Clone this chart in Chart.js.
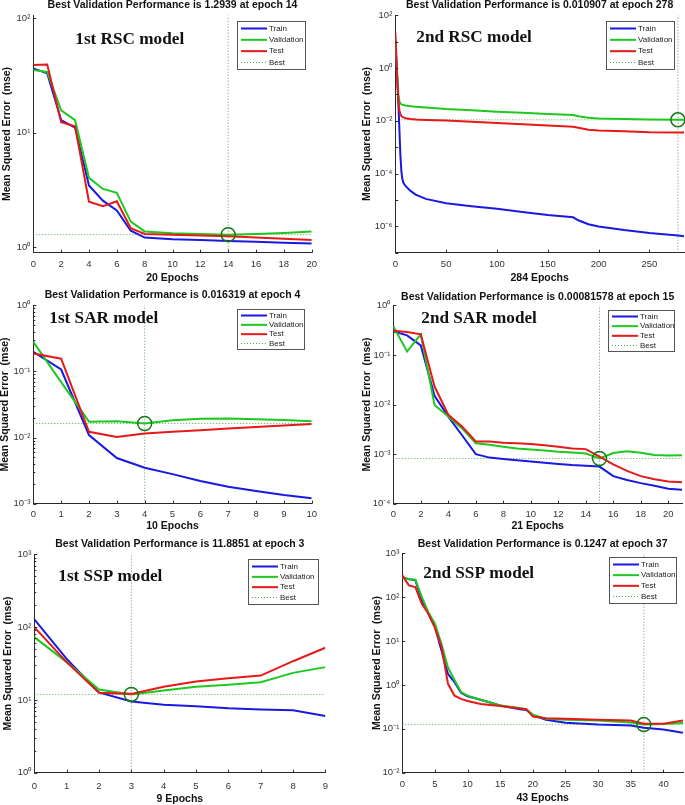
<!DOCTYPE html>
<html>
<head>
<meta charset="utf-8">
<script src="https://cdn.jsdelivr.net/npm/chart.js@4.4.0/dist/chart.umd.min.js"></script>
<style>
  html, body { margin: 0; padding: 0; background: #fff; }
  body { width: 685px; height: 805px; position: relative; overflow: hidden; }
  canvas { position: absolute; }
</style>
</head>
<body>
<canvas id="p1"></canvas>
<canvas id="p2"></canvas>
<canvas id="p3"></canvas>
<canvas id="p4"></canvas>
<canvas id="p5"></canvas>
<canvas id="p6"></canvas>
<script>
// ---- data ----
const rsc1Epochs = [0, 1, 2, 3, 4, 5, 6, 7, 8, 10, 12, 14, 16, 18, 20];
const rsc1Train = [36.5, 33, 12.9, 11.1, 3.47, 2.56, 2.1, 1.40, 1.22, 1.18, 1.16, 1.14, 1.12, 1.10, 1.08];
const rsc1Val = [35.3, 34, 15.7, 12.9, 4.05, 3.24, 3.0, 1.68, 1.38, 1.33, 1.31, 1.2939, 1.31, 1.34, 1.38];
const rsc1Test = [39, 39.5, 12.4, 11.4, 2.51, 2.29, 2.53, 1.47, 1.31, 1.29, 1.27, 1.25, 1.22, 1.19, 1.16];

const rsc2Epochs = [0, 1, 2, 3, 4, 5, 6, 7, 8, 10, 15, 20, 30, 50, 75, 100, 125, 150, 175, 180, 190, 200, 225, 250, 278, 284];
const rsc2Train = [12, 2, 0.3, 0.05, 0.005, 5e-4, 1.2e-4, 6e-5, 4.5e-5, 3.4e-5, 2.2e-5, 1.6e-5, 1.1e-5, 7.5e-6, 5.8e-6,
  4.6e-6, 3.5e-6, 2.7e-6, 2.2e-6, 1.7e-6, 1.2e-6, 9.8e-7, 7.2e-7, 5.6e-7, 4.5e-7, 4.2e-7];
const rsc2Val = [12, 2, 0.4, 0.1, 0.055, 0.045, 0.042, 0.041, 0.04, 0.038, 0.036, 0.034, 0.032, 0.028, 0.025, 0.022,
  0.02, 0.018, 0.0165, 0.0148, 0.013, 0.0122, 0.0116, 0.0112, 0.010907, 0.0109];
const rsc2Test = [23, 3, 0.4, 0.06, 0.025, 0.018, 0.015, 0.014, 0.0135, 0.0125, 0.0118, 0.0113, 0.0108, 0.0102, 0.0092,
  0.0083, 0.0074, 0.0066, 0.006, 0.0055, 0.0046, 0.0043, 0.004, 0.0037, 0.0036, 0.0036];

const sar1Epochs = [0, 1, 2, 3, 4, 5, 6, 7, 8, 9, 10];
const sar1Train = [0.198, 0.107, 0.0109, 0.0049, 0.0035, 0.0028, 0.0022, 0.0018, 0.00155, 0.00135, 0.00121];
const sar1Val = [0.28, 0.069, 0.0174, 0.0177, 0.016319, 0.0183, 0.0193, 0.0195, 0.019, 0.0185, 0.0176];
const sar1Test = [0.187, 0.156, 0.0122, 0.0102, 0.0115, 0.0122, 0.0129, 0.0137, 0.0144, 0.0152, 0.016];

const sar2Epochs = [0, 1, 2, 3, 4, 5, 6, 7, 8, 9, 10, 11, 12, 13, 14, 15, 16, 17, 18, 19, 20, 21];
const sar2Train = [0.30, 0.248, 0.155, 0.015, 0.0057, 0.0024, 0.001, 0.00085, 0.0008, 0.00075, 0.00071, 0.00067,
  0.00063, 0.0006, 0.00058, 0.00056, 0.00036, 0.0003, 0.00026, 0.00023, 0.0002, 0.00019];
const sar2Val = [0.38, 0.117, 0.26, 0.0098, 0.0057, 0.0033, 0.00166, 0.00155, 0.0014, 0.0013, 0.00124, 0.00118,
  0.00112, 0.00108, 0.00103, 0.00081578, 0.00105, 0.00114, 0.00106, 0.00096, 0.00094, 0.00095];
const sar2Test = [0.307, 0.29, 0.26, 0.023, 0.0062, 0.0036, 0.0018, 0.0018, 0.0017, 0.00165, 0.0016, 0.0015,
  0.0014, 0.0013, 0.00126, 0.00089, 0.00062, 0.00046, 0.00036, 0.00031, 0.00028, 0.00027];

const ssp1Epochs = [0, 1, 2, 3, 4, 5, 6, 7, 8, 9];
const ssp1Train = [128, 36.6, 12.7, 9.5, 8.6, 8.2, 7.7, 7.4, 7.2, 6.0];
const ssp1Val = [72.8, 33, 13.9, 11.8851, 13.5, 15.2, 16.2, 17.5, 23.5, 28.2];
const ssp1Test = [100, 33, 12.5, 12.1, 15.2, 17.9, 19.9, 21.6, 34, 52];

const ssp2Epochs = [0, 1, 2, 3, 4, 5, 6, 7, 8, 9, 10, 12, 15, 18, 19, 20, 22, 25, 30, 35, 37, 40, 43];
const ssp2Train = [290, 255, 245, 83, 42, 21, 6.1, 1.78, 1.16, 0.66, 0.55, 0.46, 0.34, 0.28, 0.27, 0.204, 0.16,
  0.138, 0.125, 0.119, 0.106, 0.097, 0.081];
const ssp2Val = [280, 260, 250, 100, 45, 25, 8.6, 2.5, 1.3, 0.69, 0.57, 0.46, 0.34, 0.3, 0.28, 0.21, 0.17,
  0.16, 0.155, 0.14, 0.1247, 0.128, 0.135];
const ssp2Test = [316, 186, 170, 70, 42, 20, 7.5, 1.06, 0.57, 0.48, 0.43, 0.37, 0.33, 0.29, 0.28, 0.19, 0.175,
  0.17, 0.16, 0.155, 0.13, 0.13, 0.155];

const modelNames = ['1st RSC model', '2nd RSC model', '1st SAR model', '2nd SAR model', '1st SSP model', '2nd SSP model'];
const bestValues = [1.2939, 0.010907, 0.016319, 0.00081578, 11.8851, 0.1247];
const bestEpochs = [14, 278, 4, 15, 3, 37];
const bestLabels = ['1.2939', '0.010907', '0.016319', '0.00081578', '11.8851', '0.1247'];
const epochCounts = [20, 284, 10, 21, 9, 43];

const xTicks = [
  [0, 2, 4, 6, 8, 10, 12, 14, 16, 18, 20],
  [0, 50, 100, 150, 200, 250],
  [0, 1, 2, 3, 4, 5, 6, 7, 8, 9, 10],
  [0, 2, 4, 6, 8, 10, 12, 14, 16, 18, 20],
  [0, 1, 2, 3, 4, 5, 6, 7, 8, 9],
  [0, 5, 10, 15, 20, 25, 30, 35, 40]
];
const yTicks = [
  [1, 10, 100],
  [1e-6, 1e-4, 1e-2, 1, 100],
  [1e-3, 1e-2, 1e-1, 1],
  [1e-4, 1e-3, 1e-2, 1e-1, 1],
  [1, 10, 100, 1000],
  [1e-2, 1e-1, 1, 10, 100, 1000]
];
const yRanges = [[0.9, 106], [1e-7, 100], [1e-3, 1], [1e-4, 1], [1, 1000], [1e-2, 1000]];

// ---- layout of each panel on the page ----
const layouts = [
  { id: 'p1', plot: { l: 33, t: 15, r: 313, b: 252 }, titleGap: 10, yTitleOff: 26, xTickPad: 6, xTitleOff: 25,
    legend: { w: 68, h: 48, right: 7, top: 6, m: 7 }, label: { x: 75, y: 39 } },
  { id: 'p2', plot: { l: 395, t: 15, r: 684, b: 252 }, titleGap: 10, yTitleOff: 28, xTickPad: 6, xTitleOff: 25,
    legend: { w: 68, h: 48, right: 10, top: 6, m: 7 }, label: { x: 416, y: 37 } },
  { id: 'p3', plot: { l: 33, t: 305, r: 312, b: 503 }, titleGap: 10, yTitleOff: 28, xTickPad: 5, xTitleOff: 22,
    legend: { w: 67, h: 40, right: 8, top: 4, m: 6 }, label: { x: 49, y: 318 } },
  { id: 'p4', plot: { l: 393, t: 305, r: 682, b: 503 }, titleGap: 8, yTitleOff: 26, xTickPad: 5, xTitleOff: 22,
    legend: { w: 66, h: 41, right: 8, top: 5, m: 6 }, label: { x: 421, y: 318 } },
  { id: 'p5', plot: { l: 34, t: 554, r: 326, b: 772 }, titleGap: 10, yTitleOff: 26, xTickPad: 8, xTitleOff: 26,
    legend: { w: 70, h: 45, right: 7, top: 5, m: 7 }, label: { x: 58, y: 576 } },
  { id: 'p6', plot: { l: 402, t: 553, r: 683, b: 772 }, titleGap: 9, yTitleOff: 25, xTickPad: 6, xTitleOff: 25,
    legend: { w: 67, h: 46, right: 7, top: 4, m: 7 }, label: { x: 423, y: 573 } }
];

const series = [
  [rsc1Epochs, rsc1Train, rsc1Val, rsc1Test],
  [rsc2Epochs, rsc2Train, rsc2Val, rsc2Test],
  [sar1Epochs, sar1Train, sar1Val, sar1Test],
  [sar2Epochs, sar2Train, sar2Val, sar2Test],
  [ssp1Epochs, ssp1Train, ssp1Val, ssp1Test],
  [ssp2Epochs, ssp2Train, ssp2Val, ssp2Test]
];

const BLUE = 'rgb(25,25,225)';
const GREEN = 'rgb(30,200,30)';
const RED = 'rgb(230,25,25)';
const BEST = 'rgba(70,150,70,0.9)';
const CIRCLE = 'rgb(20,120,20)';
const AXIS = '#2a2a2a';

Chart.defaults.font.family = '"Liberation Sans", Arial, Helvetica, sans-serif';
Chart.defaults.color = '#333';

const sup = { '0': '⁰', '1': '¹', '2': '²', '3': '³', '4': '⁴', '5': '⁵', '6': '⁶', '7': '⁷', '8': '⁸', '9': '⁹', '-': '⁻' };
function decade(v) {
  const e = Math.round(Math.log10(v));
  return '10' + String(e).split('').map(c => sup[c]).join('');
}

const TITLE_SIZE = 10.5, TITLE_LH = 1.2;
const AXT_SIZE = 10.5, AXT_LH = 1.2;

// inward tick marks, model name and the boxed legend inside the axes
function decorPlugin(lay, name, k) {
  return {
    id: 'decor',
    afterDraw(chart) {
      const ctx = chart.ctx;
      const a = chart.chartArea;
      const xs = chart.scales.x, ys = chart.scales.y;
      const c = chart.canvas;
      const offX = parseFloat(c.style.left), offY = parseFloat(c.style.top);
      ctx.save();
      ctx.strokeStyle = AXIS;
      ctx.lineWidth = 1;
      ctx.beginPath();
      xTicks[k].forEach(v => {
        const px = Math.round(xs.getPixelForValue(v)) + 0.5;
        ctx.moveTo(px, a.bottom); ctx.lineTo(px, a.bottom - 3);
      });
      const [lo, hi] = yRanges[k];
      const e0 = Math.floor(Math.log10(lo)), e1 = Math.ceil(Math.log10(hi));
      const minor = (e1 - e0) <= 3;
      for (let e = e0; e <= e1; e++) {
        const base = Math.pow(10, e);
        for (let m = 1; m <= 9; m++) {
          if (m > 1 && !minor) break;
          const v = base * m;
          if (v < lo || v > hi) continue;
          const py = Math.round(ys.getPixelForValue(v)) + 0.5;
          ctx.moveTo(a.left, py); ctx.lineTo(a.left + (m === 1 ? 3 : 2), py);
        }
      }
      ctx.stroke();
      // model name
      ctx.fillStyle = '#111';
      ctx.font = 'bold 17.2px "Liberation Serif", "Times New Roman", serif';
      ctx.textBaseline = 'middle';
      ctx.textAlign = 'left';
      ctx.fillText(name, lay.label.x - offX, lay.label.y - offY);
      // legend box
      const g = lay.legend;
      const x = Math.round(a.right - g.right - g.w), y = Math.round(a.top + g.top);
      ctx.fillStyle = '#fff';
      ctx.fillRect(x, y, g.w, g.h);
      ctx.strokeStyle = '#555';
      ctx.lineWidth = 1;
      ctx.strokeRect(x + 0.5, y + 0.5, g.w, g.h);
      const items = chart.data.datasets.filter(d => d.legendRow !== undefined)
        .sort((p, q) => p.legendRow - q.legendRow);
      const step = (g.h - 2 * g.m) / 3;
      ctx.font = '8px "Liberation Sans", Arial, sans-serif';
      items.forEach((d, i) => {
        const cy = y + g.m + i * step + 0.5;
        ctx.beginPath();
        ctx.setLineDash(d.borderDash || []);
        ctx.strokeStyle = d.borderColor;
        ctx.lineWidth = d.borderWidth;
        ctx.moveTo(x + 4, cy);
        ctx.lineTo(x + 30, cy);
        ctx.stroke();
        ctx.setLineDash([]);
        ctx.fillStyle = '#222';
        ctx.fillText(d.label, x + 32, cy);
      });
      ctx.restore();
    }
  };
}

layouts.forEach((lay, k) => {
  const [ep, tr, va, te] = series[k];
  const [yMin, yMax] = yRanges[k];
  const xMax = epochCounts[k];
  const p = lay.plot;
  const yAxisW = lay.yTitleOff + AXT_SIZE * AXT_LH / 2;
  const xAxisH = lay.xTitleOff + AXT_SIZE * AXT_LH / 2;
  const titleTopPad = 2;
  const titleBotPad = lay.titleGap - TITLE_SIZE * TITLE_LH / 2;
  const titleH = titleTopPad + TITLE_SIZE * TITLE_LH + titleBotPad;
  const padR = 10;
  const left = p.l - yAxisW;
  const top = p.t - titleH;
  const w = Math.round(p.r + padR - left);
  const h = Math.round(p.b + xAxisH - top);

  const canvas = document.getElementById(lay.id);
  canvas.width = w;
  canvas.height = h;
  canvas.style.width = w + 'px';
  canvas.style.height = h + 'px';
  canvas.style.left = left + 'px';
  canvas.style.top = top + 'px';

  const pts = vals => ep.map((e, i) => ({ x: e, y: vals[i] }));
  const lineDs = (label, vals, color, order, row) => ({
    label, data: pts(vals), borderColor: color, borderWidth: 2, pointRadius: 0,
    tension: 0, fill: false, order, legendRow: row
  });

  new Chart(canvas, {
    type: 'line',
    data: {
      datasets: [
        lineDs('Train', tr, BLUE, 3, 0),
        lineDs('Validation', va, GREEN, 2, 1),
        lineDs('Test', te, RED, 1, 2),
        { label: 'Best', data: [{ x: 0, y: bestValues[k] }, { x: xMax, y: bestValues[k] }],
          borderColor: BEST, borderWidth: 1, borderDash: [1, 2], pointRadius: 0, order: 4, legendRow: 3 },
        { label: 'bestV', data: [{ x: bestEpochs[k], y: yMin }, { x: bestEpochs[k], y: yMax }],
          borderColor: BEST, borderWidth: 1, borderDash: [1, 2], pointRadius: 0, order: 4 },
        { label: 'bestPt', data: [{ x: bestEpochs[k], y: bestValues[k] }], showLine: false,
          pointRadius: 7, pointStyle: 'circle', pointBorderColor: CIRCLE, pointBackgroundColor: 'rgba(0,0,0,0)',
          pointBorderWidth: 1.5, order: 0, clip: false }
      ]
    },
    options: {
      responsive: false,
      animation: false,
      devicePixelRatio: 1,
      layout: { padding: { left: 0, right: padR, top: 0, bottom: 0 } },
      plugins: {
        legend: { display: false },
        tooltip: { enabled: false },
        title: {
          display: true,
          fullSize: false,
          text: 'Best Validation Performance is ' + bestLabels[k] + ' at epoch ' + bestEpochs[k],
          color: '#111',
          font: { size: TITLE_SIZE, weight: 'bold', lineHeight: TITLE_LH },
          padding: { top: titleTopPad, bottom: titleBotPad }
        }
      },
      scales: {
        x: {
          type: 'linear',
          min: 0,
          max: xMax,
          afterBuildTicks: s => { s.ticks = xTicks[k].map(v => ({ value: v })); },
          afterFit: s => { s.height = xAxisH; },
          ticks: { autoSkip: false, maxRotation: 0, padding: lay.xTickPad, color: '#333', font: { size: 9.5 } },
          grid: { drawOnChartArea: false, drawTicks: false },
          border: { display: true, color: AXIS, width: 1 },
          title: {
            display: true, text: epochCounts[k] + ' Epochs', color: '#111',
            font: { size: AXT_SIZE, weight: 'bold', lineHeight: AXT_LH }, padding: 0
          }
        },
        y: {
          type: 'logarithmic',
          min: yMin,
          max: yMax,
          afterBuildTicks: s => { s.ticks = yTicks[k].map(v => ({ value: v })); },
          afterFit: s => { s.width = yAxisW; },
          ticks: { autoSkip: false, padding: 3, color: '#333', font: { size: 9.5 }, callback: v => decade(v) },
          grid: { drawOnChartArea: false, drawTicks: false },
          border: { display: true, color: AXIS, width: 1 },
          title: {
            display: true, text: 'Mean Squared Error  (mse)', color: '#111',
            font: { size: AXT_SIZE, weight: 'bold', lineHeight: AXT_LH }, padding: 0
          }
        }
      }
    },
    plugins: [decorPlugin(lay, modelNames[k], k)]
  });
});
</script>
</body>
</html>
